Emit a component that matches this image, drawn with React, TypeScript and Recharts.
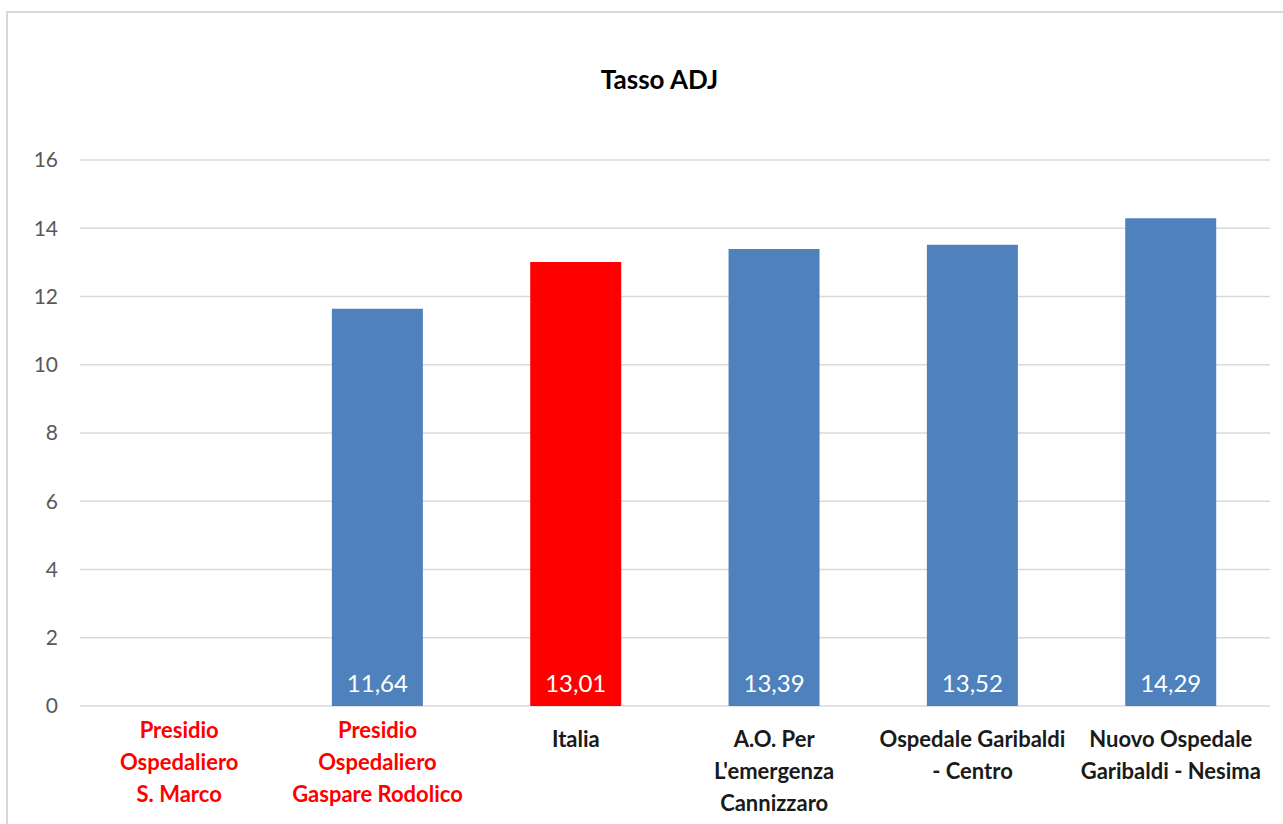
import { Bar, BarChart, CartesianGrid, Cell, LabelList, XAxis, YAxis } from 'recharts';

// categories split in the lines shown under the axis
const categories = [
  'Presidio Ospedaliero S. Marco',
  'Presidio Ospedaliero Gaspare Rodolico',
  'Italia',
  "A.O. Per L'emergenza Cannizzaro",
  'Ospedale Garibaldi - Centro',
  'Nuovo Ospedale Garibaldi - Nesima',
];
const categoryLines = [
  ['Presidio', 'Ospedaliero', 'S. Marco'],
  ['Presidio', 'Ospedaliero', 'Gaspare Rodolico'],
  ['Italia'],
  ['A.O. Per', "L'emergenza", 'Cannizzaro'],
  ['Ospedale Garibaldi', '- Centro'],
  ['Nuovo Ospedale', 'Garibaldi - Nesima'],
];
const tassoAdj: (number | null)[] = [null, 11.64, 13.01, 13.39, 13.52, 14.29];
const yTicks = [0, 2, 4, 6, 8, 10, 12, 14, 16];

const referenceCategory = 'Italia';
const redLabelCategories = new Set([categories[0], categories[1]]);

const FONT = 'Lato, "Open Sans", sans-serif';
const BLUE = '#4f81bd';
const RED = '#ff0000';

const data = categories.map((name, i) => ({ name, lines: categoryLines[i], value: tassoAdj[i] }));

const fmt = (v: number) => v.toFixed(2).replace('.', ',');

function CategoryTick({ x, y, payload }: any) {
  const lines = categoryLines[payload.index] ?? [payload.value];
  const red = redLabelCategories.has(payload.value);
  return (
    <text
      x={x}
      y={y + (red ? 24 : 33)}
      textAnchor="middle"
      fontFamily={FONT}
      fontSize={22}
      fontWeight={700}
      fill={red ? RED : '#1a1a1a'}
    >
      {lines.map((l: string, i: number) => (
        <tspan key={i} x={x} dy={i === 0 ? 0 : 32}>
          {l}
        </tspan>
      ))}
    </text>
  );
}

function ValueLabel({ x, y, width, height, value }: any) {
  if (value == null) return null;
  return (
    <text
      x={x + width / 2}
      y={y + height - 14}
      textAnchor="middle"
      fontFamily={FONT}
      fontSize={24}
      fill="#ffffff"
    >
      {fmt(value)}
    </text>
  );
}

export default function App() {
  return (
    <div style={{ position: 'fixed', top: 0, left: 0, width: 1283, height: 824, background: '#fff' }}>
      <div
        style={{
          position: 'absolute',
          left: 6,
          top: 11,
          width: 1300,
          height: 850,
          border: '2px solid #d9d9d9',
          boxSizing: 'border-box',
        }}
      />
      <div
        style={{
          position: 'absolute',
          top: 63,
          left: 18,
          width: 1283,
          textAlign: 'center',
          fontFamily: FONT,
          fontWeight: 700,
          fontSize: 26,
          color: '#000',
        }}
      >
        Tasso ADJ
      </div>
      <div style={{ position: 'absolute', top: 0, left: 0 }}>
        <BarChart
          width={1283}
          height={824}
          data={data}
          margin={{ top: 160, right: 13, bottom: 8, left: 20 }}
          barCategoryGap="27%"
        >
          <CartesianGrid vertical={false} stroke="#d9d9d9" strokeWidth={1.5} />
          <XAxis
            dataKey="name"
            axisLine={false}
            tickLine={false}
            interval={0}
            height={110}
            tick={<CategoryTick />}
          />
          <YAxis
            domain={[0, 16]}
            ticks={yTicks}
            axisLine={false}
            tickLine={false}
            tickSize={0}
            tickMargin={22}
            width={60}
            tick={{ fontFamily: FONT, fontSize: 21, fill: '#595959' }}
          />
          <Bar dataKey="value" isAnimationActive={false}>
            {data.map((d) => (
              <Cell key={d.name} fill={d.name === referenceCategory ? RED : BLUE} />
            ))}
            <LabelList dataKey="value" content={<ValueLabel />} />
          </Bar>
        </BarChart>
      </div>
    </div>
  );
}
